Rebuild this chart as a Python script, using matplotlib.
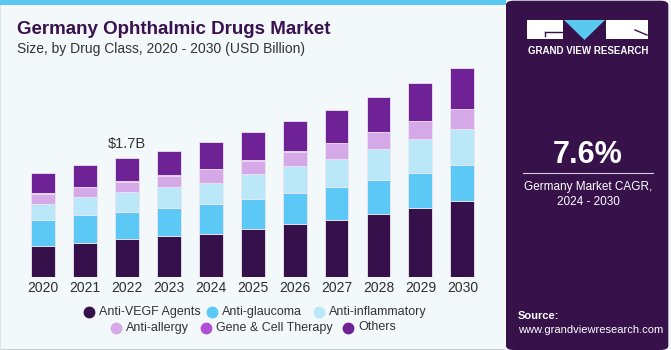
import numpy as np
import matplotlib
matplotlib.use("Agg")
import matplotlib.pyplot as plt
from matplotlib.patches import Rectangle, Polygon, FancyBboxPatch
from matplotlib.lines import Line2D
from matplotlib.colors import LinearSegmentedColormap

# -----------------------------
# Data (USD Billion)
# -----------------------------
years = ["2020", "2021", "2022", "2023", "2024", "2025", "2026", "2027", "2028", "2029", "2030"]
anti_vegf = [0.45, 0.49, 0.54, 0.58, 0.62, 0.68, 0.76, 0.81, 0.90, 0.99, 1.08]
anti_glaucoma = [0.37, 0.39, 0.39, 0.40, 0.42, 0.43, 0.44, 0.47, 0.49, 0.50, 0.52]
anti_inflammatory = [0.23, 0.26, 0.28, 0.30, 0.31, 0.36, 0.38, 0.41, 0.44, 0.48, 0.52]
anti_allergy = [0.14, 0.14, 0.15, 0.17, 0.19, 0.19, 0.21, 0.22, 0.24, 0.26, 0.28]
gene_cell = [0.005, 0.005, 0.005, 0.005, 0.005, 0.005, 0.005, 0.005, 0.005, 0.005, 0.005]
others = [0.29, 0.31, 0.34, 0.35, 0.38, 0.40, 0.43, 0.47, 0.50, 0.54, 0.58]

series = [
    ("Anti-VEGF Agents", anti_vegf, "#35104a"),
    ("Anti-glaucoma", anti_glaucoma, "#5bc8f5"),
    ("Anti-inflammatory", anti_inflammatory, "#bae8f8"),
    ("Anti-allergy", anti_allergy, "#d5a8e8"),
    ("Gene & Cell Therapy", gene_cell, "#b04fd6"),
    ("Others", others, "#6f2196"),
]

plt.rcParams["font.family"] = ["Liberation Sans", "DejaVu Sans"]

W, H = 671, 350
bg = "#f3f8fb"
dark = "#36114a"

fig = plt.figure(figsize=(W / 100, H / 100), dpi=100)
fig.patch.set_facecolor(bg)

def fx(px):
    return px / W

def fy(py):
    return 1 - py / H

# -----------------------------
# Frame pieces
# -----------------------------
fig.add_artist(Rectangle((0, fy(5)), fx(506), 5 / H, transform=fig.transFigure,
                         color="#5bc8f0", lw=0))
fig.add_artist(Rectangle((0, 0), fx(506), 1.5 / H, transform=fig.transFigure,
                         color="#c9ccd0", lw=0))
fig.add_artist(Rectangle((0, 0), 1.2 / W, fy(5), transform=fig.transFigure,
                         color="#dfe3e6", lw=0))

# -----------------------------
# Bars
# -----------------------------
ax = fig.add_axes([fx(22), fy(277), fx(483.3 - 22), (277 - 60) / H])
ax.set_facecolor("none")
x = np.arange(len(years))
bottom = np.zeros(len(years))
for name, vals, col in series:
    ax.bar(x, vals, bottom=bottom, width=0.57, color=col, edgecolor="#ece4f2",
           linewidth=0.6)
    bottom += np.array(vals)

ax.set_xlim(-0.5, len(years) - 0.5)
ax.set_ylim(0, 217 / 70)
ax.set_xticks(x)
ax.set_xticklabels(years, fontsize=10, color="#2e2e2e")
ax.tick_params(axis="x", length=0, pad=3)
ax.set_yticks([])
for s in ax.spines.values():
    s.set_visible(False)

ax.text(2, bottom[2] + 0.1, "$1.7B", ha="center", va="bottom", fontsize=10.5,
        color="#333333")

# -----------------------------
# Titles
# -----------------------------
fig.text(fx(17), fy(30), "Germany Ophthalmic Drugs Market", fontsize=13.5,
         fontweight="bold", color="#3a1150", va="center")
fig.text(fx(17), fy(49), "Size, by Drug Class, 2020 - 2030 (USD Billion)",
         fontsize=10, color="#333333", va="center")

# -----------------------------
# Legend (two centred rows)
# -----------------------------
legend_rows = [(312, [89, 212, 319]), (327.5, [116, 206, 348])]
k = 0
for ry, xs in legend_rows:
    for mx in xs:
        name, _, col = series[k]
        fig.add_artist(Line2D([fx(mx)], [fy(ry)], marker="o", markersize=7.5, ls="",
                              markerfacecolor=col, markeredgecolor=col,
                              transform=fig.transFigure))
        fig.text(fx(mx + 10), fy(ry), name, fontsize=9, color="#333333",
                 va="center", ha="left")
        k += 1

# -----------------------------
# Right panel
# -----------------------------
fig.add_artist(FancyBboxPatch((fx(506), 0), fx(671 - 506) - 0.004, 1 - 0.002,
                              boxstyle="round,pad=0,rounding_size=0.012",
                              transform=fig.transFigure, color=dark, lw=0))

# soft lightening band above the grid
sax = fig.add_axes([fx(507), fy(283), fx(671 - 510), (283 - 255) / H])
sax.imshow(np.linspace(1, 0, 50)[:, None], aspect="auto",
           cmap=LinearSegmentedColormap.from_list("s", [dark, "#3e2462"]),
           extent=[0, 1, 0, 1])
sax.axis("off")

# grid texture at the bottom of the panel
gax = fig.add_axes([fx(507), fy(348), fx(671 - 510), (348 - 283) / H])
grad = np.linspace(0, 1, 100)[:, None] ** 1.3
gax.imshow(grad, aspect="auto", cmap=LinearSegmentedColormap.from_list(
    "g", ["#4a3a74", "#4a6aa6", "#56b4e2"]), extent=[0, 1, 0, 1], origin="upper")
for k in np.linspace(-0.6, 1.6, 34):
    gax.plot([0.5 + (k - 0.5) * 0.55, k], [1, 0], color="white", alpha=0.12, lw=0.5)
for k in 1 - np.linspace(0, 1, 10) ** 1.5:
    gax.axhline(k, color="white", alpha=0.12, lw=0.5)
gax.set_xlim(0, 1)
gax.set_ylim(0, 1)
gax.axis("off")

# logo
fig.add_artist(Rectangle((fx(527), fy(39)), fx(36), 19 / H, transform=fig.transFigure,
                         color="white", lw=0))
fig.add_artist(Rectangle((fx(606), fy(39)), fx(42), 19 / H, transform=fig.transFigure,
                         color="white", lw=0))
fig.add_artist(Polygon([(fx(564), fy(20)), (fx(605), fy(20)), (fx(584.5), fy(40))],
                       closed=True, transform=fig.transFigure, color="#5bc8f0", lw=0))
fig.add_artist(Line2D([fx(545), fx(562)], [fy(32), fy(32)], transform=fig.transFigure,
                      color=dark, lw=1))
fig.add_artist(Line2D([fx(545), fx(545)], [fy(32), fy(36)], transform=fig.transFigure,
                      color=dark, lw=1))
fig.add_artist(Line2D([fx(635), fx(647)], [fy(30), fy(35)], transform=fig.transFigure,
                      color=dark, lw=1))
fig.text(fx(588), fy(51), "GRAND VIEW RESEARCH", fontsize=7, color="white",
         ha="center", va="center", fontweight="bold")

fig.text(fx(588), fy(155), "7.6%", fontsize=22, color="white", ha="center",
         va="center", fontweight="bold")
fig.add_artist(Line2D([fx(523), fx(653)], [fy(173), fy(173)], transform=fig.transFigure,
                      color="#d8cce0", lw=0.8))
fig.text(fx(588), fy(187), "Germany Market CAGR,", fontsize=8.5, color="white",
         ha="center", va="center")
fig.text(fx(588), fy(202), "2024 - 2030", fontsize=8.5, color="white",
         ha="center", va="center")

fig.text(fx(518), fy(316), "Source:", fontsize=8, color="white", va="center",
         fontweight="bold")
fig.text(fx(518), fy(330), "www.grandviewresearch.com", fontsize=8, color="white",
         va="center")

fig.savefig("out.png", dpi=100, facecolor=fig.get_facecolor())
